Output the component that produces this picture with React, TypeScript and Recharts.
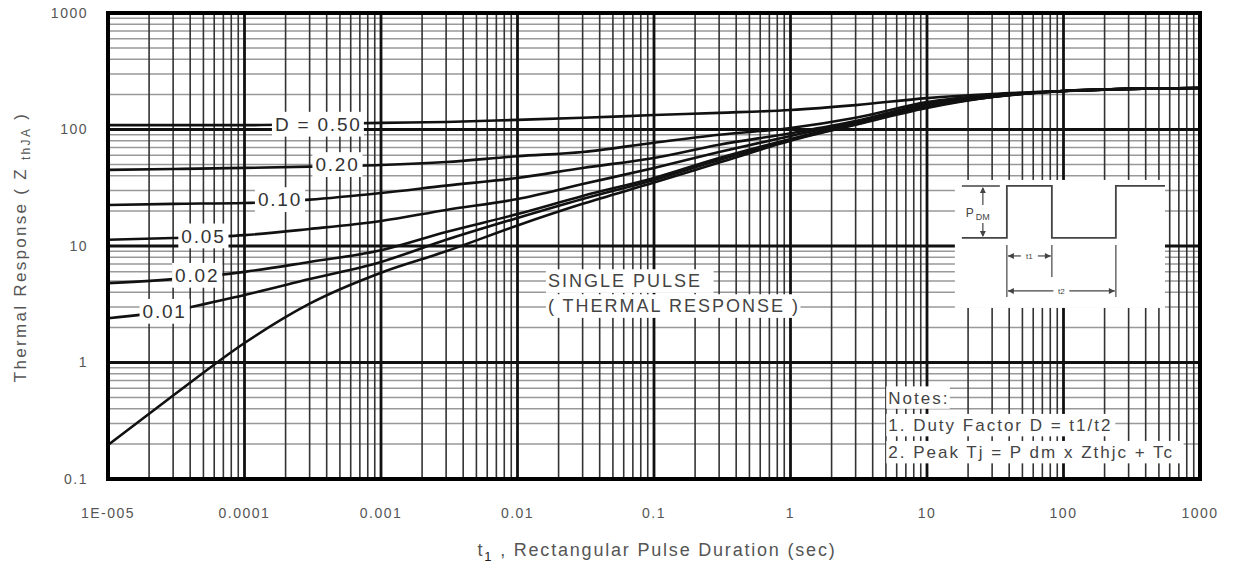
import { LineChart, Line, XAxis, YAxis, ReferenceLine, ReferenceDot, ReferenceArea } from 'recharts'

// pulse duration samples (sec) and thermal response per duty factor
const tValues = [1e-5, 3e-5, 1e-4, 3e-4, 1e-3, 3e-3, 1e-2, 3e-2, 0.1, 0.3, 1, 3, 10, 30, 100, 300, 1000]
const d50 = [109, 109, 109, 111, 114, 116, 121, 126, 133, 139, 147, 162, 186, 202, 214, 223, 227]
const d20 = [45, 45.8, 46.8, 48, 49.6, 52.6, 59, 64, 77, 90, 103, 126, 172, 198, 214, 223, 227]
const d10 = [22.5, 23, 23.4, 25, 28.5, 33, 38.4, 46.8, 57, 74, 93, 118, 166, 194, 214, 223, 227]
const d05 = [11.3, 11.7, 12.4, 14, 16.4, 20.4, 25.3, 34, 46.8, 64, 88, 116, 162, 192, 214, 223, 227]
const d02 = [4.8, 5.2, 6.0, 7.3, 9.2, 13.2, 18.8, 26.9, 38.4, 57, 83, 114, 159, 190, 214, 223, 227]
const d01 = [2.4, 2.8, 3.8, 5.2, 7.3, 11.3, 17.4, 25.3, 36.9, 54.7, 81, 111, 156, 190, 214, 223, 227]
const single = [0.196, 0.52, 1.47, 3.2, 5.9, 9.0, 15, 23, 35, 52, 80, 110, 153, 190, 214, 223, 227]

const xTicks = [1e-5, 1e-4, 1e-3, 1e-2, 0.1, 1, 10, 100, 1000]
const xTickLabels = ['1E-005', '0.0001', '0.001', '0.01', '0.1', '1', '10', '100', '1000']
const yTicks = [0.1, 1, 10, 100, 1000]
const yTickLabels = ['0.1', '1', '10', '100', '1000']
const minorSteps = [2, 3, 4, 5, 6, 7, 8, 9]

// curve labels: text, t, z
const curveLabels = [
  { text: 'D = 0.50', t: 3.45e-4, z: 111 },
  { text: '0.20', t: 4.8e-4, z: 50 },
  { text: '0.10', t: 1.82e-4, z: 25 },
  { text: '0.05', t: 5.0e-5, z: 12.2 },
  { text: '0.02', t: 4.5e-5, z: 5.6 },
  { text: '0.01', t: 2.6e-5, z: 2.75 },
]

const pulseText = [
  { text: 'SINGLE PULSE', t: 0.0167, z: 5.0 },
  { text: '( THERMAL RESPONSE )', t: 0.0167, z: 3.05 },
]

const notes = [
  { text: 'Notes:', t: 5.2, z: 0.5 },
  { text: '1. Duty Factor D = t1/t2', t: 5.2, z: 0.29 },
  { text: '2. Peak Tj = P dm x Zthjc + Tc', t: 5.2, z: 0.17 },
]

const data = tValues.map((t, i) => ({
  t,
  d50: d50[i],
  d20: d20[i],
  d10: d10[i],
  d05: d05[i],
  d02: d02[i],
  d01: d01[i],
  single: single[i],
}))

const series = ['d50', 'd20', 'd10', 'd05', 'd02', 'd01', 'single']

const xMinor = xTicks.slice(0, -1).flatMap((d) => minorSteps.map((k) => d * k))
const yMinor = yTicks.slice(0, -1).flatMap((d) => minorSteps.map((k) => d * k))

const FONT = 'Liberation Sans, Arial, Helvetica, sans-serif'

function charW(c: string) {
  if (/[0-9]/.test(c)) return 0.556
  if (c === '.' || c === ',' || c === ' ' || c === ':' || c === '/') return 0.278
  if (c === '=' || c === '+') return 0.584
  if (c === '(' || c === ')') return 0.333
  if (/[A-Z]/.test(c)) return 0.68
  if (c === 'm') return 0.833
  if ('iljt'.includes(c)) return 0.25
  return 0.53
}

function textWidth(s: string, size: number, spacing: number) {
  let w = 0
  for (const c of s) w += charW(c) * size + spacing
  return w
}

function Tag(props: any) {
  const { cx, cy, text, size, anchor, spacing, color, padX = 3, padY = 2 } = props
  const w = textWidth(text, size, spacing)
  const left = anchor === 'start' ? cx : cx - w / 2
  return (
    <g>
      <rect x={left - padX} y={cy - size * 0.6 - padY} width={w + 2 * padX} height={size * 1.2 + 2 * padY} fill="#fff" />
      <text x={left} y={cy} dy="0.35em" fontSize={size} letterSpacing={spacing} fill={color} fontFamily={FONT}>
        {text}
      </text>
    </g>
  )
}

function Inset(props: any) {
  const { x, y, width, height } = props
  const g = '#444'
  const base = y + 58
  const top = y + 6
  const a = x + 52
  const b = x + 97
  const c = x + 161
  return (
    <g>
      <rect x={x} y={y} width={width} height={height} fill="#fff" />
      <path d={`M${x + 7},${base} H${a} V${top} H${b} V${base} H${c} V${top} H${x + width}`} fill="none" stroke={g} strokeWidth={1.8} />
      <line x1={x + 7} y1={top} x2={x + 45} y2={top} stroke={g} strokeWidth={1.5} />
      <line x1={x + 28} y1={top + 2} x2={x + 28} y2={top + 19} stroke={g} strokeWidth={1.2} />
      <line x1={x + 28} y1={top + 37} x2={x + 28} y2={base - 2} stroke={g} strokeWidth={1.2} />
      <path d={`M${x + 25},${top + 7} L${x + 28},${top + 1} L${x + 31},${top + 7} Z`} fill={g} />
      <path d={`M${x + 25},${base - 7} L${x + 28},${base - 1} L${x + 31},${base - 7} Z`} fill={g} />
      <text x={x + 11} y={top + 31} fontSize={12} fill={g} fontFamily={FONT}>P</text>
      <text x={x + 21} y={top + 34} fontSize={9} fill={g} fontFamily={FONT}>DM</text>
      <line x1={a} y1={base + 7} x2={a} y2={y + 117} stroke={g} strokeWidth={1.2} />
      <line x1={b} y1={base + 7} x2={b} y2={y + 97} stroke={g} strokeWidth={1.2} />
      <line x1={c} y1={base + 7} x2={c} y2={y + 117} stroke={g} strokeWidth={1.2} />
      <line x1={a + 1} y1={y + 76} x2={a + 14} y2={y + 76} stroke={g} strokeWidth={1.2} />
      <line x1={b - 14} y1={y + 76} x2={b - 1} y2={y + 76} stroke={g} strokeWidth={1.2} />
      <path d={`M${a + 1},${y + 76} l6,-3 v6 Z`} fill={g} />
      <path d={`M${b - 1},${y + 76} l-6,-3 v6 Z`} fill={g} />
      <text x={(a + b) / 2} y={y + 79} fontSize={8} fill={g} textAnchor="middle" fontFamily={FONT}>t1</text>
      <line x1={a + 1} y1={y + 111} x2={(a + c) / 2 - 8} y2={y + 111} stroke={g} strokeWidth={1.2} />
      <line x1={(a + c) / 2 + 8} y1={y + 111} x2={c - 1} y2={y + 111} stroke={g} strokeWidth={1.2} />
      <path d={`M${a + 1},${y + 111} l6,-3 v6 Z`} fill={g} />
      <path d={`M${c - 1},${y + 111} l-6,-3 v6 Z`} fill={g} />
      <text x={(a + c) / 2} y={y + 114} fontSize={8} fill={g} textAnchor="middle" fontFamily={FONT}>t2</text>
    </g>
  )
}

export default function App() {
  return (
    <div style={{ position: 'absolute', left: 0, top: 0, width: 1233, height: 572, background: '#fff' }}>
      <LineChart width={1233} height={572} data={data} margin={{ top: 13, right: 33, left: 0, bottom: 0 }}>
        <XAxis
          dataKey="t"
          type="number"
          scale="log"
          domain={[1e-5, 1000]}
          ticks={xTicks}
          tickFormatter={(v) => xTickLabels[xTicks.indexOf(v)] ?? ''}
          axisLine={false}
          tickLine={false}
          tickSize={0}
          tickMargin={29}
          height={93}
          interval={0}
          tick={{ fontSize: 14, fill: '#555', fontFamily: FONT, letterSpacing: 1.5 }}
        />
        <YAxis
          type="number"
          scale="log"
          domain={[0.1, 1000]}
          ticks={yTicks}
          tickFormatter={(v) => yTickLabels[yTicks.indexOf(v)] ?? ''}
          axisLine={false}
          tickLine={false}
          tickSize={0}
          tickMargin={20}
          width={108}
          interval={0}
          tick={{ fontSize: 14, fill: '#555', fontFamily: FONT, letterSpacing: 1.5 }}
        />
        {yMinor.map((v) => (
          <ReferenceLine key={'ym' + v} y={v} stroke="#999" strokeWidth={1.5} zIndex={-50} ifOverflow="visible" />
        ))}
        {xMinor.map((v) => (
          <ReferenceLine key={'xm' + v} x={v} stroke="#333" strokeWidth={1.6} zIndex={-50} ifOverflow="visible" />
        ))}
        {yTicks.map((v) => (
          <ReferenceLine key={'yM' + v} y={v} stroke="#111" strokeWidth={2.8} zIndex={-40} ifOverflow="visible" />
        ))}
        {xTicks.map((v) => (
          <ReferenceLine key={'xM' + v} x={v} stroke="#111" strokeWidth={2.8} zIndex={-40} ifOverflow="visible" />
        ))}
        {series.map((k) => (
          <Line
            key={k}
            dataKey={k}
            type="monotone"
            stroke="#111"
            strokeWidth={2.6}
            dot={false}
            activeDot={false}
            isAnimationActive={false}
          />
        ))}
        <ReferenceArea
          x1={16}
          x2={554}
          y1={2.94}
          y2={36.9}
          zIndex={1500}
          ifOverflow="visible"
          shape={(p: any) => <Inset {...p} />}
        />
        {curveLabels.map((l) => (
          <ReferenceDot
            key={l.text}
            x={l.t}
            y={l.z}
            r={1}
            zIndex={1800}
            ifOverflow="visible"
            shape={(p: any) => (
              <Tag cx={p.cx} cy={p.cy} text={l.text} size={19} spacing={1.8} color="#333" anchor="middle" padX={3} padY={1} />
            )}
          />
        ))}
        {pulseText.map((l) => (
          <ReferenceDot
            key={l.text}
            x={l.t}
            y={l.z}
            r={1}
            zIndex={1800}
            ifOverflow="visible"
            shape={(p: any) => (
              <Tag cx={p.cx} cy={p.cy} text={l.text} size={18} spacing={2} color="#444" anchor="start" padX={2} padY={1} />
            )}
          />
        ))}
        {notes.map((l) => (
          <ReferenceDot
            key={l.text}
            x={l.t}
            y={l.z}
            r={1}
            zIndex={1800}
            ifOverflow="visible"
            shape={(p: any) => (
              <Tag cx={p.cx} cy={p.cy} text={l.text} size={17} spacing={2} color="#444" anchor="start" padX={2} padY={1} />
            )}
          />
        ))}
        <ReferenceArea
          x1={1e-5}
          x2={1000}
          y1={0.1}
          y2={1000}
          fill="none"
          fillOpacity={0}
          stroke="#000"
          strokeWidth={4}
          zIndex={2500}
          ifOverflow="visible"
        />
      </LineChart>
      <svg width={1233} height={572} style={{ position: 'absolute', left: 0, top: 0, pointerEvents: 'none' }}>
        <text
          transform="translate(26,247) rotate(-90)"
          textAnchor="middle"
          fontSize={17}
          letterSpacing={2.3}
          fill="#555"
          fontFamily={FONT}
        >
          Thermal Response ( Z <tspan fontSize={12} dy={4}>thJA</tspan>
          <tspan dy={-4}> )</tspan>
        </text>
        <text x={657} y={556} textAnchor="middle" fontSize={18} letterSpacing={1.8} fill="#555" fontFamily={FONT}>
          t<tspan fontSize={13} dy={5} fill="#222">1</tspan>
          <tspan dy={-5}> , Rectangular Pulse Duration (sec)</tspan>
        </text>
      </svg>
    </div>
  )
}
